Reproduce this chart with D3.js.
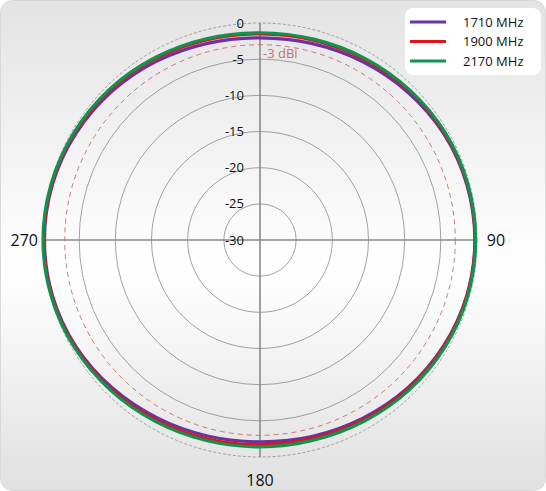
<!DOCTYPE html>
<html><head><meta charset="utf-8">
<script src="https://cdn.jsdelivr.net/npm/d3@7"></script>
<style>body{margin:0;background:#fff}svg{display:block}</style>
</head><body>
<svg id="c" width="546" height="491"></svg>
<script>
const angles = [0,15,30,45,60,75,90,105,120,135,150,165,180,195,210,225,240,255,270,285,300,315,330,345];
const s1710 = [-2.05,-1.9,-1.55,-1.1,-0.65,-0.4,-0.3,-0.4,-0.7,-1.1,-1.55,-1.9,-2.1,-1.95,-1.6,-1.1,-0.6,-0.3,-0.2,-0.3,-0.6,-1.0,-1.45,-1.85];
const s1900 = [-1.5,-1.4,-1.15,-0.8,-0.5,-0.3,-0.25,-0.35,-0.6,-0.95,-1.3,-1.6,-1.7,-1.55,-1.25,-0.85,-0.45,-0.2,-0.1,-0.2,-0.4,-0.7,-1.05,-1.35];
const s2170 = [-1.35,-1.25,-1.0,-0.7,-0.4,-0.25,-0.2,-0.25,-0.45,-0.75,-1.1,-1.35,-1.4,-1.3,-1.05,-0.7,-0.35,-0.1,0.0,-0.1,-0.3,-0.55,-0.9,-1.2];
const seriesNames = ["1710 MHz","1900 MHz","2170 MHz"];
const ringTicks = [0,-5,-10,-15,-20,-25,-30];
const refLevel = -3;
const refLabel = "-3 dBi";
const angleLabels = [{a:90,t:"90"},{a:180,t:"180"},{a:270,t:"270"}];

const svg = d3.select("#c");
const W=546,H=491, cx=260, cy=240, R=217;
const colors=["#7030a0","#e01414","#12924e"];

const defs=svg.append("defs");
const g=defs.append("linearGradient").attr("id","bg").attr("x1",0).attr("y1",0).attr("x2",0).attr("y2",1);
g.append("stop").attr("offset","0%").attr("stop-color","#e3e3e3");
g.append("stop").attr("offset","55%").attr("stop-color","#ffffff");
g.append("stop").attr("offset","100%").attr("stop-color","#e0e0e0");
svg.append("rect").attr("x",0.5).attr("y",0.5).attr("width",W-1).attr("height",H-1).attr("rx",12)
  .attr("fill","url(#bg)").attr("stroke","#d8d8d8");

const r = d3.scaleLinear().domain([-30,0]).range([0,R]);
const plot = svg.append("g").attr("transform",`translate(${cx},${cy})`);

ringTicks.filter(d=>d>-30).forEach(d=>{
  plot.append("circle").attr("r",r(d)).attr("fill","none")
    .attr("stroke", "#8a8a8a").attr("stroke-width",0.8)
    .attr("stroke-dasharray", d===0?"3,2":null);
});
plot.append("circle").attr("r",r(refLevel)).attr("fill","none")
  .attr("stroke","#c46a6a").attr("stroke-width",0.9).attr("stroke-dasharray","5,4");

plot.append("line").attr("x1",-R).attr("x2",R).attr("y1",0).attr("y2",0).attr("stroke","#8a8a8a").attr("stroke-width",1.6);
plot.append("line").attr("y1",-R).attr("y2",R).attr("x1",0).attr("x2",0).attr("stroke","#8a8a8a").attr("stroke-width",1.6);

ringTicks.forEach(d=>{
  plot.append("text").attr("x",-16).attr("y",-r(d)).attr("dy","0.35em").attr("text-anchor","end")
    .attr("font-family","'Open Sans', sans-serif").attr("font-size",13).attr("fill","#111").text(d);
});
plot.append("text").attr("x",3).attr("y",-r(refLevel)+9).attr("dy","0.35em")
  .attr("font-family","'Open Sans', sans-serif").attr("font-size",13).attr("fill","#c07070").text(refLabel);

angleLabels.forEach(o=>{
  const a=o.a*Math.PI/180;
  const rr = R + (o.a===180?23:o.a===90?19:5);
  const x=Math.sin(a)*rr, y=-Math.cos(a)*rr;
  plot.append("text").attr("x",x).attr("y",y).attr("dy","0.35em")
    .attr("text-anchor", o.a===270?"end":"middle")
    .attr("font-family","'Open Sans', sans-serif").attr("font-size",16).attr("fill","#111").text(o.t);
});

const line = d3.lineRadial().angle(d=>d[0]*Math.PI/180).radius(d=>r(d[1])).curve(d3.curveCatmullRomClosed);
[s1710,s1900,s2170].forEach((s,i)=>{
  plot.append("path").datum(angles.map((a,j)=>[a,s[j]])).attr("d",line)
    .attr("fill","none").attr("stroke",colors[i]).attr("stroke-width",3.2);
});

const lg=svg.append("g").attr("transform","translate(405,8)");
lg.append("rect").attr("width",136).attr("height",67).attr("rx",8).attr("fill","#fff");
seriesNames.forEach((n,i)=>{
  const y=14+i*19.5;
  lg.append("line").attr("x1",5).attr("x2",41).attr("y1",y).attr("y2",y).attr("stroke",colors[i]).attr("stroke-width",3);
  lg.append("text").attr("x",58).attr("y",y).attr("dy","0.35em").attr("font-family","'Open Sans', sans-serif")
    .attr("font-size",13).attr("fill","#111").text(n);
});
</script>
</body></html>
